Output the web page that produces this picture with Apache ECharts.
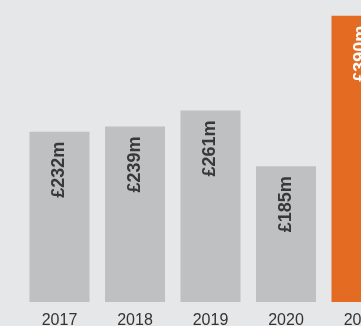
<!DOCTYPE html>
<html>
<head>
<meta charset="utf-8">
<script src="https://cdn.jsdelivr.net/npm/echarts@6/dist/echarts.min.js"></script>
<style>
  html, body { margin: 0; padding: 0; background: #e6e7e9; }
  #chart { width: 361px; height: 326px; }
</style>
</head>
<body>
<div id="chart"></div>
<script>
  // revenue per year, £m
  var years = ['2017', '2018', '2019', '2020', '2021'];
  var revenue = [232, 239, 261, 185, 390];
  var barColors = ['#bfc0c2', '#bfc0c2', '#bfc0c2', '#bfc0c2', '#e36c22'];
  var labelColors = ['#383838', '#383838', '#383838', '#383838', '#ffffff'];

  var chart = echarts.init(document.getElementById('chart'));

  chart.setOption({
    backgroundColor: '#e6e7e9',
    animation: false,
    grid: {
      left: 21.75,
      width: 377.5,
      top: 8.4,
      height: 293.6,
      containLabel: false,
      outerBoundsMode: 'none'
    },
    xAxis: {
      type: 'category',
      data: years,
      axisLine: { show: false },
      axisTick: { show: false },
      axisLabel: {
        color: '#333',
        fontSize: 16,
        fontFamily: 'Liberation Sans, Arial, sans-serif',
        margin: 11
      }
    },
    yAxis: {
      type: 'value',
      min: 0,
      max: 400,
      show: false
    },
    series: [{
      type: 'bar',
      barWidth: 60,
      data: revenue.map(function (v, i) {
        return {
          value: v,
          itemStyle: { color: barColors[i] },
          label: { color: labelColors[i] }
        };
      }),
      label: {
        show: true,
        position: 'insideTop',
        distance: 10,
        rotate: 90,
        align: 'right',
        verticalAlign: 'middle',
        fontSize: 18,
        fontWeight: 'bold',
        fontFamily: 'Liberation Sans, Arial, sans-serif',
        formatter: function (p) { return '£' + p.value + 'm'; }
      }
    }]
  });
</script>
</body>
</html>
